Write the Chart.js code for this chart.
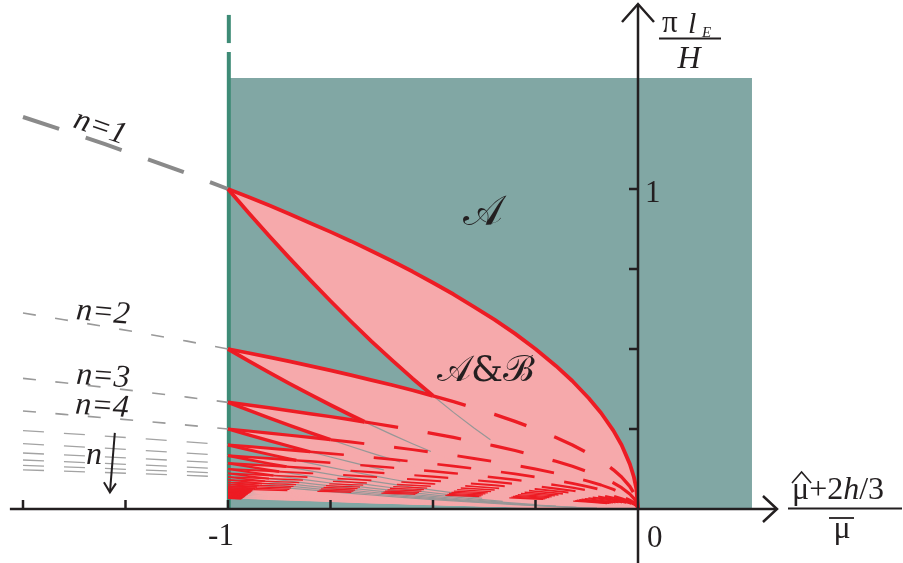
<!DOCTYPE html>
<html>
<head>
<meta charset="utf-8">
<script src="https://cdn.jsdelivr.net/npm/chart.js@4.4.1/dist/chart.umd.min.js"></script>
<style>
  html, body { margin: 0; padding: 0; background: #fff; }
  canvas { display: block; }
</style>
</head>
<body>
<canvas id="phaseChart" width="903" height="563"></canvas>
<script>
// Sample abscissae along the horizontal axis
const xSamples = [-1.5, -1.4, -1.3, -1.2, -1.1, -1.0, -0.95, -0.9, -0.85, -0.8, -0.75, -0.7, -0.65, -0.6, -0.55, -0.5, -0.45, -0.4, -0.35, -0.3, -0.25, -0.2, -0.16, -0.12, -0.09, -0.06, -0.04, -0.02, -0.01, -0.004, 0];
// n=1 upper boundary (outer curve)
const upperN1 = [1.225, 1.183, 1.140, 1.095, 1.049, 1.0, 0.975, 0.949, 0.922, 0.894, 0.866, 0.837, 0.806, 0.775, 0.742, 0.707, 0.671, 0.632, 0.592, 0.548, 0.5, 0.447, 0.4, 0.346, 0.3, 0.245, 0.2, 0.141, 0.1, 0.063, 0];
// n=1 lower boundary (only right of the wall)
const lowerN1 = [null, null, null, null, null, 1.0, 0.926, 0.854, 0.784, 0.716, 0.650, 0.586, 0.524, 0.465, 0.408, 0.354, 0.302, 0.253, 0.207, 0.164, 0.125, 0.089, 0.064, 0.042, 0.027, 0.015, 0.008, 0.003, 0.001, 0.0003, 0];

// mode numbers drawn, and where each lobe's lower edge meets the next upper edge
const modes = [1, 2, 3, 4, 5, 6, 7, 8, 9, 10, 11, 12, 13, 14, 15, 16, 17, 18, 19, 20, 21, 22, 23, 24, 25, 26, 27, 28, 29, 30];
const junctionX = [-0.5, -0.667, -0.75, -0.8, -0.833, -0.857, -0.875, -0.889, -0.9, -0.909, -0.917, -0.923, -0.929, -0.933, -0.938, -0.941, -0.944, -0.947, -0.95, -0.952, -0.955, -0.957, -0.958, -0.96, -0.962, -0.963, -0.964, -0.966, -0.967, -0.968];
// end of the thin grey continuation of each lower edge
const greyEndX = [-0.36, -0.505, -0.58, -0.62, -0.55, -0.45, -0.38, -0.33, -0.25, -0.2, -0.15, -0.1];
const leftModes = [1, 2, 3, 4, 5, 6, 7, 8, 9, 10];

// region A (teal block) and the wall at x = -1
const regionAX = [-1, 0.278];
const regionATop = 1.347;
const wallX = -0.998;
const wallPieces = [[0, 1.428], [1.456, 1.544]];

// axes
const xAxisSpan = [-1.532, 0.339];
const yAxisSpan = [-0.2, 1.578];
const xTicks = [-1.5, -1.25, -1, -0.75, -0.5, -0.25];
const yTicks = [0.25, 0.5, 0.75, 1];

const TEAL = 'rgb(129,167,164)';
const PINK = 'rgb(246,169,171)';
const RED = 'rgb(237,28,36)';
const WALL = 'rgb(62,139,118)';
const INK = '#231f20';

function valueAt(arr, x) {
  for (let i = 0; i < xSamples.length - 1; i++) {
    const a = xSamples[i], b = xSamples[i + 1];
    if (x >= a && x <= b) {
      const ya = arr[i], yb = arr[i + 1];
      if (ya === null) return yb;
      return ya + (yb - ya) * (x - a) / (b - a);
    }
  }
  return arr[arr.length - 1];
}

function branch(arr, n, x0, x1) {
  const pts = [{ x: x0, y: valueAt(arr, x0) / n }];
  xSamples.forEach((x, i) => {
    if (x > x0 && x < x1 && arr[i] !== null) pts.push({ x, y: arr[i] / n });
  });
  pts.push({ x: x1, y: valueAt(arr, x1) / n });
  return pts;
}

function line(points, opts) {
  return Object.assign({
    data: points,
    showLine: true,
    pointRadius: 0,
    pointHoverRadius: 0,
    borderColor: RED,
    borderWidth: 3,
    borderCapStyle: 'butt',
    borderJoinStyle: 'round',
    tension: 0,
    fill: false,
  }, opts);
}

const redWidth = (n) => (n <= 2 ? 3.8 : Math.max(1.4, 3.8 - 0.28 * (n - 2)));

const datasets = [];

// teal region A
datasets.push(line([
  { x: regionAX[0], y: 0 }, { x: regionAX[1], y: 0 },
  { x: regionAX[1], y: regionATop }, { x: regionAX[0], y: regionATop },
], { fill: 'shape', backgroundColor: TEAL, borderColor: 'rgba(0,0,0,0)', borderWidth: 0, order: 100 }));

// pink lobes (A&B)
modes.forEach((n) => {
  const top = branch(upperN1, n, -1, 0);
  const bottom = branch(lowerN1, n, -1, 0).reverse();
  datasets.push(line(top.concat(bottom), {
    fill: 'shape', backgroundColor: PINK, borderColor: 'rgba(0,0,0,0)', borderWidth: 0, order: 90,
  }));
});

// wall
wallPieces.forEach(([a, b]) => {
  datasets.push(line([{ x: wallX, y: a }, { x: wallX, y: b }], { borderColor: WALL, borderWidth: 4, order: 80 }));
});

// grey dashed continuation left of the wall
leftModes.forEach((n) => {
  let style;
  if (n === 1) style = { borderColor: '#8a8a8a', borderWidth: 4, borderDash: [38, 28] };
  else if (n <= 4) style = { borderColor: '#9a9a9a', borderWidth: 1.6, borderDash: [13, 19.5] };
  else style = { borderColor: '#a3a3a3', borderWidth: 1.3, borderDash: [21, 20] };
  datasets.push(line(branch(upperN1, n, -1.5, -1), Object.assign(style, { order: 70 })));
});

// thin grey continuation of lower edges inside the pink region
greyEndX.forEach((xe, i) => {
  const n = i + 1;
  datasets.push(line(branch(lowerN1, n, junctionX[i], xe), { borderColor: '#979797', borderWidth: 1.2, order: 60 }));
});

// red dashed continuation of upper edges
modes.forEach((n) => {
  if (n < 2 || n > 16) return;
  datasets.push(line(branch(upperN1, n, junctionX[n - 2], 0), {
    borderWidth: redWidth(n) * 0.9, borderDash: [34, 30], order: 50,
  }));
});

// red solid lobe boundaries
modes.forEach((n) => {
  const upperEnd = n === 1 ? 0 : junctionX[n - 2];
  datasets.push(line(branch(upperN1, n, -1, upperEnd), { borderWidth: redWidth(n), order: 40 }));
  datasets.push(line(branch(lowerN1, n, -1, junctionX[n - 1]), { borderWidth: redWidth(n), order: 40 }));
});

const axesPlugin = {
  id: 'axes',
  afterDatasetsDraw(chart) {
    const { ctx, scales: { x, y } } = chart;
    const x0 = x.getPixelForValue(0), y0 = y.getPixelForValue(0);
    ctx.save();
    ctx.strokeStyle = INK;
    ctx.lineWidth = 2.5;
    ctx.lineCap = 'butt';
    // horizontal axis + arrow
    const xr = x.getPixelForValue(xAxisSpan[1]);
    ctx.beginPath();
    ctx.moveTo(x.getPixelForValue(xAxisSpan[0]), y0);
    ctx.lineTo(xr, y0);
    ctx.stroke();
    ctx.beginPath();
    ctx.moveTo(xr - 14, y0 - 13); ctx.lineTo(xr, y0); ctx.lineTo(xr - 14, y0 + 13);
    ctx.stroke();
    // vertical axis + arrow
    const yt = y.getPixelForValue(yAxisSpan[1]);
    ctx.beginPath();
    ctx.moveTo(x0, y.getPixelForValue(yAxisSpan[0]));
    ctx.lineTo(x0, yt);
    ctx.stroke();
    ctx.beginPath();
    ctx.moveTo(x0 - 16, yt + 18); ctx.lineTo(x0, yt); ctx.lineTo(x0 + 16, yt + 18);
    ctx.stroke();
    // ticks
    xTicks.forEach((v) => {
      const p = x.getPixelForValue(v);
      ctx.beginPath(); ctx.moveTo(p, y0); ctx.lineTo(p, y0 - 9); ctx.stroke();
    });
    yTicks.forEach((v) => {
      const p = y.getPixelForValue(v);
      ctx.beginPath(); ctx.moveTo(x0, p); ctx.lineTo(x0 - 9, p); ctx.stroke();
    });
    ctx.restore();
  },
};

const SERIF = '"Liberation Serif", "DejaVu Serif", serif';

const textPlugin = {
  id: 'texts',
  afterDraw(chart) {
    const { ctx, scales: { x, y } } = chart;
    const px = (v) => x.getPixelForValue(v), py = (v) => y.getPixelForValue(v);
    ctx.save();
    ctx.fillStyle = INK;
    ctx.strokeStyle = INK;

    // tick labels
    ctx.font = '31px ' + SERIF;
    ctx.textBaseline = 'alphabetic';
    ctx.textAlign = 'center';
    ctx.fillText('-1', px(-1) - 7, 545);
    ctx.textAlign = 'left';
    ctx.fillText('0', px(0) + 9, 547);
    ctx.fillText('1', px(0) + 7, py(1) + 13);

    // mode labels
    const modeLabel = (txt, xv, yv, deg) => {
      ctx.save();
      ctx.translate(px(xv), py(yv));
      ctx.rotate(deg * Math.PI / 180);
      ctx.font = 'italic 32px ' + SERIF;
      ctx.textAlign = 'center';
      ctx.textBaseline = 'middle';
      ctx.fillText(txt, 0, 0);
      ctx.restore();
    };
    modeLabel('n=1', -1.312, 1.191, 19);
    modeLabel('n=2', -1.305, 0.612, 5);
    modeLabel('n=3', -1.305, 0.412, 4);
    modeLabel('n=4', -1.307, 0.319, 4);
    modeLabel('n', -1.327, 0.166, 0);

    // arrow for increasing n
    const ax0 = px(-1.276), ay0 = py(0.238), ax1 = px(-1.288), ay1 = py(0.052);
    ctx.lineWidth = 2;
    ctx.beginPath(); ctx.moveTo(ax0, ay0); ctx.lineTo(ax1, ay1); ctx.stroke();
    ctx.beginPath();
    ctx.moveTo(ax1 - 6, ay1 - 10); ctx.lineTo(ax1, ay1); ctx.lineTo(ax1 + 6, ay1 - 9);
    ctx.stroke();

    // region labels
    ctx.font = '42px "DejaVu Serif", serif';
    ctx.textAlign = 'center';
    ctx.textBaseline = 'middle';
    ctx.fillText('𝒜', px(-0.378), py(0.922));
    ctx.font = '36px "DejaVu Serif", serif';
    ctx.fillText('𝒜&ℬ', px(-0.373), py(0.428));

    // vertical axis title: pi l_E / H
    ctx.textAlign = 'left';
    ctx.textBaseline = 'alphabetic';
    ctx.font = '31px ' + SERIF;
    ctx.fillText('π', 662, 32);
    ctx.font = 'italic 30px ' + SERIF;
    ctx.fillText('l', 688, 33);
    ctx.font = 'italic 15px ' + SERIF;
    ctx.fillText('E', 702, 37);
    ctx.lineWidth = 2;
    ctx.beginPath(); ctx.moveTo(659, 38.5); ctx.lineTo(721, 38.5); ctx.stroke();
    ctx.font = 'italic 32px ' + SERIF;
    ctx.textAlign = 'center';
    ctx.fillText('H', 689, 68);

    // horizontal axis title: (mu-hat + 2h/3) / mu-bar
    ctx.textAlign = 'left';
    let cx = 792;
    const piece = (t, f) => { ctx.font = f; ctx.fillText(t, cx, 499); cx += ctx.measureText(t).width; };
    const up = '32px ' + SERIF, it = 'italic 32px ' + SERIF;
    const muStart = cx;
    piece('μ', up);
    const muEnd = cx;
    piece('+2', up);
    piece('h', it);
    piece('/3', up);
    ctx.lineWidth = 1.6;
    ctx.beginPath();
    ctx.moveTo(muStart, 483); ctx.lineTo((muStart + muEnd) / 2 + 1, 472); ctx.lineTo(muEnd + 2, 483);
    ctx.stroke();
    ctx.lineWidth = 2;
    ctx.beginPath(); ctx.moveTo(788, 508.5); ctx.lineTo(902, 508.5); ctx.stroke();
    ctx.font = up;
    ctx.textAlign = 'center';
    ctx.fillText('μ', 842, 538);
    ctx.lineWidth = 1.8;
    ctx.beginPath(); ctx.moveTo(829, 518); ctx.lineTo(854, 518); ctx.stroke();
    ctx.restore();
  },
};

new Chart(document.getElementById('phaseChart'), {
  type: 'line',
  data: { datasets },
  options: {
    responsive: false,
    animation: false,
    devicePixelRatio: 1,
    events: [],
    layout: { padding: 0 },
    plugins: { legend: { display: false }, tooltip: { enabled: false } },
    scales: {
      x: { type: 'linear', min: -638 / 410, max: 265 / 410, display: false },
      y: { type: 'linear', min: -54 / 320, max: 509 / 320, display: false },
    },
  },
  plugins: [axesPlugin, textPlugin],
});
</script>
</body>
</html>
